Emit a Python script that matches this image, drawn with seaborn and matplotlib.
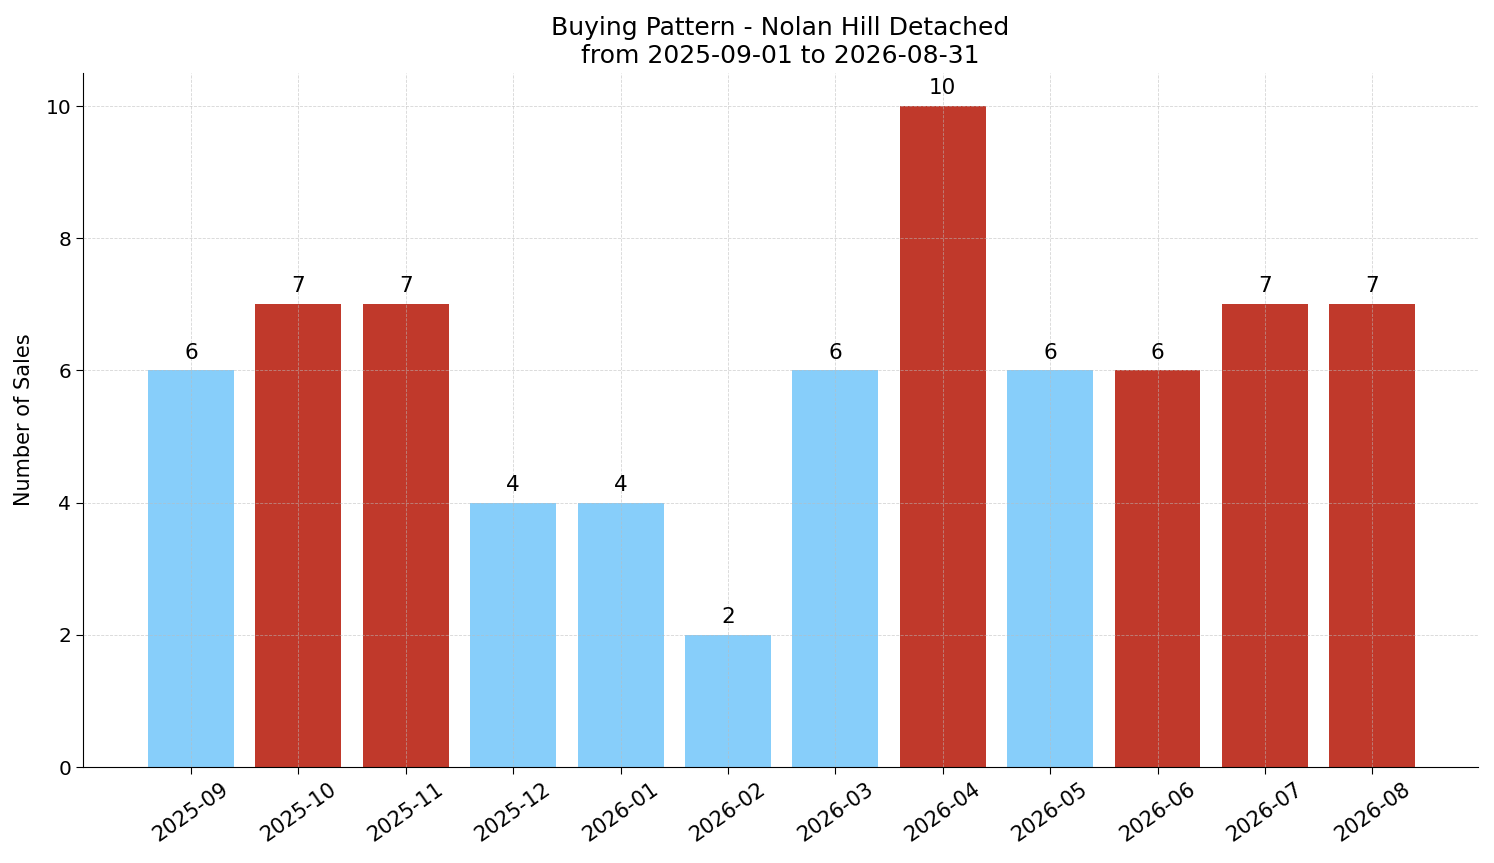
import matplotlib
matplotlib.use("Agg")
import matplotlib.pyplot as plt
import seaborn as sns
import pandas as pd

months = ["2025-09", "2025-10", "2025-11", "2025-12", "2026-01", "2026-02",
          "2026-03", "2026-04", "2026-05", "2026-06", "2026-07", "2026-08"]
sales = [6, 7, 7, 4, 4, 2, 6, 10, 6, 6, 7, 7]
bar_colors = ["#87CEFA", "#C0392B", "#C0392B", "#87CEFA", "#87CEFA", "#87CEFA",
              "#87CEFA", "#C0392B", "#87CEFA", "#C0392B", "#C0392B", "#C0392B"]

df = pd.DataFrame({"month": months, "sales": sales})

fig, ax = plt.subplots(figsize=(14.94, 8.63), dpi=100)
fig.subplots_adjust(left=0.0556, right=0.989, top=0.9154, bottom=0.1112)

sns.barplot(data=df, x="month", y="sales", hue="month", palette=bar_colors,
            legend=False, width=0.8, saturation=1, linewidth=0, ax=ax)

for i, v in enumerate(sales):
    ax.text(i, v + 0.12, str(v), ha="center", va="bottom", fontsize=15.5, color="black")

ax.set_xlim(-1.005, 11.98)
ax.set_ylim(0, 10.5)
ax.set_title("Buying Pattern - Nolan Hill Detached\nfrom 2025-09-01 to 2026-08-31",
             fontsize=18, color="black", pad=7)
ax.set_xlabel("")
ax.set_ylabel("Number of Sales", fontsize=15, color="black", labelpad=8)
ax.tick_params(axis="x", labelrotation=35, labelsize=15, length=5, colors="black")
ax.tick_params(axis="y", labelsize=14.5, length=5, colors="black")
ax.grid(True, linestyle="--", linewidth=0.6, color="#bbbbbb", alpha=0.6)
ax.set_axisbelow(False)
sns.despine(ax=ax)

plt.savefig("out.png", dpi=100)
